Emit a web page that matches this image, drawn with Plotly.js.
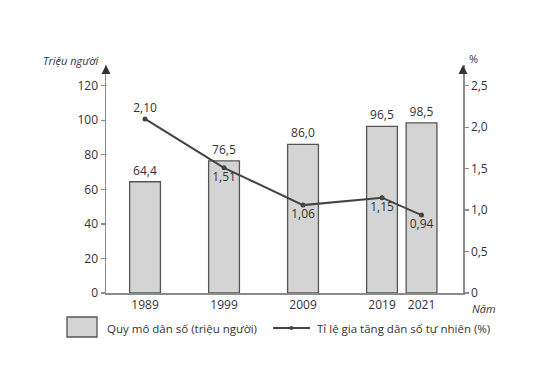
<!DOCTYPE html>
<html>
<head>
<meta charset="utf-8">
<script src="https://cdn.plot.ly/plotly-3.0.1.min.js"></script>
<style>html,body{margin:0;padding:0;background:#fff;}#chart{width:557px;height:366px;}</style>
</head>
<body>
<div id="chart"></div>
<script>
// ---- data ----
const years = ['1989', '1999', '2009', '2019', '2021'];
const slots = [0, 1, 2, 3, 3.5];            // horizontal slot of each year on the drawn axis
const population = [64.4, 76.5, 86.0, 96.5, 98.5];   // triệu người
const growthRate = [2.10, 1.51, 1.06, 1.15, 0.94];   // %
const leftTicks = [0, 20, 40, 60, 80, 100, 120];
const rightTickVals = [0, 0.5, 1.0, 1.5, 2.0, 2.5];
const rightTickText = ['0', '0,5', '1,0', '1,5', '2,0', '2,5'];
const legendBar = 'Quy mô dân số (triệu người)';
const legendLine = 'Tỉ lệ gia tăng dân số tự nhiên (%)';

// ---- geometry ----
const W = 557, H = 366;
const M = {l: 106, r: 94, t: 65, b: 73};
const pw = W - M.l - M.r, ph = H - M.t - M.b;
const px = x => (x - M.l) / pw;
const py = y => (H - M.b - y) / ph;

const FONT = 'Open Sans, Lato, sans-serif';
const TXT = '#333333';
const AX = '#8c8c8c';

const bars = {
  type: 'bar', x: slots, y: population, width: 0.39,
  marker: {color: '#d4d4d4', line: {color: '#555555', width: 1.3}},
  text: population, texttemplate: '%{y:.1f}', textposition: 'outside',
  textfont: {family: FONT, size: 12, color: TXT}, cliponaxis: false,
  hoverinfo: 'skip', showlegend: false
};
const line = {
  type: 'scatter', mode: 'lines+markers+text', x: slots, y: growthRate, yaxis: 'y2',
  line: {color: '#444444', width: 2}, marker: {color: '#444444', size: 5},
  text: growthRate, texttemplate: '%{y:.2f}',
  textposition: ['top center', 'bottom center', 'bottom center', 'bottom center', 'bottom center'],
  textfont: {family: FONT, size: 12, color: TXT}, cliponaxis: false,
  hoverinfo: 'skip', showlegend: false
};

const shapes = [
  {type: 'rect', xref: 'paper', yref: 'paper', x0: px(67), x1: px(97), y0: py(317), y1: py(337),
   fillcolor: '#d4d4d4', line: {color: '#555555', width: 1.3}},
  {type: 'line', xref: 'paper', yref: 'paper', x0: px(273), x1: px(310), y0: py(328), y1: py(328),
   line: {color: '#444444', width: 2}},
  {type: 'circle', xref: 'paper', yref: 'paper', x0: px(289.5), x1: px(293.5), y0: py(326), y1: py(330),
   fillcolor: '#444444', line: {color: '#444444', width: 0}}
];

const annotations = [
  {xref: 'paper', yref: 'paper', x: px(100), y: py(60), xanchor: 'right', yanchor: 'middle', showarrow: false,
   text: '<i>Triệu người</i>', font: {family: FONT, size: 11, color: TXT}},
  {xref: 'paper', yref: 'paper', x: px(474), y: py(59), xanchor: 'center', yanchor: 'middle', showarrow: false,
   text: '%', font: {family: FONT, size: 11, color: TXT}},
  {xref: 'paper', yref: 'paper', x: px(484), y: py(308), xanchor: 'center', yanchor: 'middle', showarrow: false,
   text: '<i>Năm</i>', font: {family: FONT, size: 11, color: TXT}},
  {xref: 'paper', yref: 'paper', x: px(105), y: py(328), xanchor: 'left', yanchor: 'middle', showarrow: false,
   text: legendBar, font: {family: FONT, size: 11.5, color: TXT}},
  {xref: 'paper', yref: 'paper', x: px(315), y: py(328), xanchor: 'left', yanchor: 'middle', showarrow: false,
   text: legendLine, font: {family: FONT, size: 11.5, color: TXT}},
  // axis arrow heads
  {xref: 'paper', yref: 'paper', x: 0, y: 1.0, ax: 0, ay: 9, showarrow: true, arrowhead: 2, arrowsize: 1.2,
   arrowwidth: 1.5, arrowcolor: '#333333', text: ''},
  {xref: 'paper', yref: 'paper', x: 1, y: 1.0, ax: 0, ay: 9, showarrow: true, arrowhead: 2, arrowsize: 1.2,
   arrowwidth: 1.5, arrowcolor: '#333333', text: ''}
];

const layout = {
  width: W, height: H, margin: M, paper_bgcolor: '#ffffff', plot_bgcolor: '#ffffff',
  separators: ', ', showlegend: false,
  font: {family: FONT, size: 12, color: TXT},
  xaxis: {range: [-0.494, 4.025], tickvals: slots, ticktext: years, ticks: '', showgrid: false,
          zeroline: false, showline: true, linecolor: AX, linewidth: 1.5, fixedrange: true,
          tickfont: {family: FONT, size: 12, color: TXT}},
  yaxis: {range: [0, 132], tickvals: leftTicks, ticks: 'outside', ticklen: 4, tickcolor: AX, tickwidth: 1.2,
          showgrid: false, zeroline: false, showline: true, linecolor: AX, linewidth: 1.5,
          tickfont: {family: FONT, size: 12, color: TXT}},
  yaxis2: {overlaying: 'y', side: 'right', range: [0, 2.75], tickvals: rightTickVals, ticktext: rightTickText,
           ticks: 'outside', ticklen: 4, tickcolor: AX, tickwidth: 1.2, showgrid: false, zeroline: false,
           showline: true, linecolor: AX, linewidth: 1.5, tickfont: {family: FONT, size: 12, color: TXT}},
  shapes: shapes, annotations: annotations
};

Plotly.newPlot('chart', [bars, line], layout, {staticPlot: true, displayModeBar: false});
</script>
</body>
</html>
